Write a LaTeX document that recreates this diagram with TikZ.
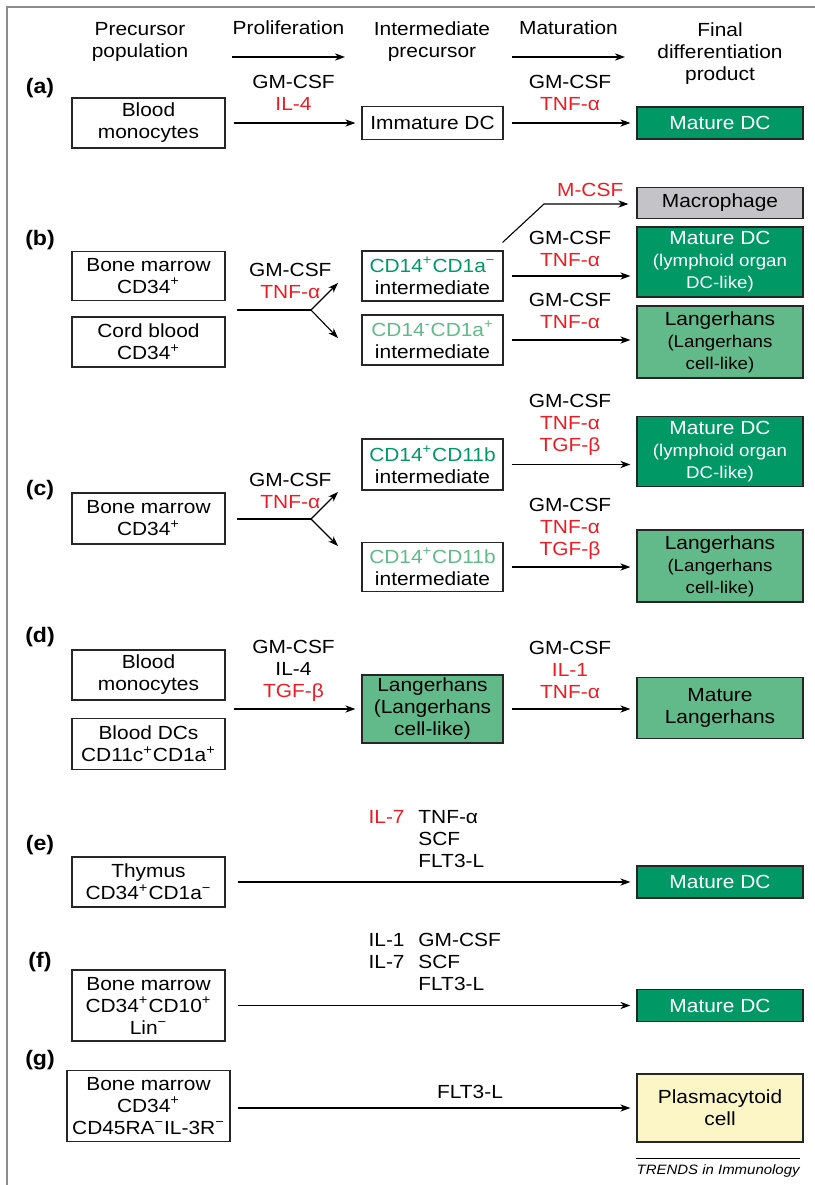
\documentclass[tikz,border=0pt]{standalone}
\usepackage{fontspec}
\setmainfont{Liberation Sans}[FakeStretch=1.1]
\usepackage{xcolor}
\usepackage{tikz}
\usetikzlibrary{arrows.meta, positioning, calc}
\definecolor{dcGreen}{RGB}{0,152,100}
\definecolor{lcGreen}{RGB}{98,186,138}
\definecolor{macGray}{RGB}{196,196,200}
\definecolor{plasYellow}{RGB}{252,245,198}
\definecolor{cytoRed}{RGB}{237,28,36}
\definecolor{frameGray}{RGB}{140,140,140}
\newcommand\figfont{\fontsize{9.5}{11}\selectfont}
\newcommand\subfont{\fontsize{8.5}{11}\selectfont}
\newcommand\cyt[1]{\textcolor{cytoRed}{#1}}

\begin{document}
\begin{tikzpicture}[x=0.5pt, y=-0.5pt,
    every node/.style={font=\figfont},
    cell/.style={rectangle, draw=black!85, line width=0.6pt, fill=white,
        align=center, inner sep=1pt},
    srcbox/.style={cell, minimum width=76.5pt},
    midbox/.style={cell, minimum width=70.5pt},
    endbox/.style={cell, minimum width=83pt, minimum height=16pt},
    dcfill/.style={fill=dcGreen, text=white},
    lcfill/.style={fill=lcGreen},
    mfill/.style={fill=macGray},
    pfill/.style={fill=plasYellow},
    arr/.style={-{Stealth[length=5pt, width=3.6pt, inset=1.5pt]}, line width=0.55pt},
    gap/.style={shorten <=4pt, shorten >=3pt},
    lbl/.style={align=center, inner sep=0pt},
    tag/.style={font=\fontsize{10.5}{12}\selectfont\bfseries},
    hdr/.style={align=center, inner sep=0pt}
]
\useasboundingbox (0,0) rectangle (815,1185);
\draw[frameGray, line width=0.9pt] (7,1185) -- (7,7) -- (815,7);

% header
\node[hdr] (hpre) at (140,42) {Precursor\\population};
\node[hdr] (hint) at (432,42) {Intermediate\\precursor};
\node[hdr] (hfin) at (720,54) {Final\\differentiation\\product};
\coordinate (proA) at (232,57);
\coordinate (proB) at (345,57);
\draw[arr] (proA) -- (proB) node[midway, above=11pt, lbl] {Proliferation};
\coordinate (matA) at (512,57);
\coordinate (matB) at (625,57);
\draw[arr] (matA) -- (matB) node[midway, above=11pt, lbl] {Maturation};

% (a)
\node[tag] (ta) at (40,88) {(a)};
\node[srcbox, minimum height=25pt] (monoa) at (148.5,123) {Blood\\monocytes};
\node[midbox, minimum height=16.5pt] (imma) at (432.5,123) {Immature DC};
\node[endbox, dcfill] (mdca) at (720,123) {Mature DC};
\draw[arr, gap] (monoa) -- (imma)
    node[midway, above=6pt, lbl] {GM-CSF\\\cyt{IL-4}};
\draw[arr, gap] (imma) -- (mdca)
    node[midway, above=6pt, lbl] {GM-CSF\\\cyt{TNF-α}};

% (b)
\node[tag] (tb) at (40,240) {(b)};
\node[srcbox, minimum height=24.5pt] (bmb) at (148.5,276) {Bone marrow\\CD34\textsuperscript{+}};
\node[srcbox, minimum height=25pt] (cbb) at (148.5,342) {Cord blood\\CD34\textsuperscript{+}};
\node[midbox, minimum height=25pt] (cdA) at (432.5,276)
    {\textcolor{dcGreen}{CD14\textsuperscript{+}CD1a\textsuperscript{−}}\\intermediate};
\node[midbox, minimum height=25pt] (cdB) at (432.5,340)
    {\textcolor{lcGreen}{CD14\textsuperscript{-}CD1a\textsuperscript{+}}\\intermediate};
\node[endbox, mfill, minimum height=15.5pt] (macb) at (720,203) {Macrophage};
\node[endbox, dcfill, minimum height=35pt] (mdcb) at (720,262)
    {Mature DC\\{\subfont (lymphoid organ}\\{\subfont DC-like)}};
\node[endbox, lcfill, minimum height=36pt] (lcb) at (720,342)
    {Langerhans\\{\subfont (Langerhans}\\{\subfont cell-like)}};
\coordinate (bIn) at (237,310);
\coordinate (bSplit) at (311,310);
\coordinate (bUp) at (338,283);
\coordinate (bDown) at (338,338);
\coordinate (bKnee) at (544,204);
\draw[line width=0.55pt] (bIn) -- (bSplit)
    node[pos=0.72, above=5.5pt, lbl] {GM-CSF\\\cyt{TNF-α}};
\draw[arr] (bSplit) -- (bUp);
\draw[arr] (bSplit) -- (bDown);
\draw[arr, shorten >=4pt] ([xshift=-0.5pt, yshift=4pt]cdA.north east) -- (bKnee)
    -- node[above=3.5pt, lbl] {\cyt{M-CSF}} (bKnee -| macb.west);
\draw[arr, gap] (cdA) -- (cdA -| mdcb.west)
    node[midway, above=4.5pt, lbl] {GM-CSF\\\cyt{TNF-α}};
\draw[arr, gap] (cdB) -- (cdB -| lcb.west)
    node[midway, above=5.5pt, lbl] {GM-CSF\\\cyt{TNF-α}};

% (c)
\node[tag] (tc) at (40,490) {(c)};
\node[srcbox, minimum height=25.5pt] (bmc) at (148.5,518.5) {Bone marrow\\CD34\textsuperscript{+}};
\node[midbox, minimum height=25.5pt] (cdC) at (432.5,464.5)
    {\textcolor{dcGreen}{CD14\textsuperscript{+}CD11b}\\intermediate};
\node[midbox, minimum height=24.5pt] (cdD) at (432.5,567)
    {\textcolor{lcGreen}{CD14\textsuperscript{+}CD11b}\\intermediate};
\node[endbox, dcfill, minimum height=35pt] (mdcc) at (720,451.5)
    {Mature DC\\{\subfont (lymphoid organ}\\{\subfont DC-like)}};
\node[endbox, lcfill, minimum height=36pt] (lcc) at (720,566)
    {Langerhans\\{\subfont (Langerhans}\\{\subfont cell-like)}};
\coordinate (cIn) at (237,519);
\coordinate (cSplit) at (311,519);
\coordinate (cUp) at (338,492);
\coordinate (cDown) at (338,546);
\draw[line width=0.55pt] (cIn) -- (cSplit)
    node[pos=0.72, above=5pt, lbl] {GM-CSF\\\cyt{TNF-α}};
\draw[arr] (cSplit) -- (cUp);
\draw[arr] (cSplit) -- (cDown);
\draw[arr, gap] (cdC) -- (cdC -| mdcc.west)
    node[midway, above=4.25pt, lbl] {GM-CSF\\\cyt{TNF-α}\\\cyt{TGF-β}};
\draw[arr, gap] (cdD) -- (cdD -| lcc.west)
    node[midway, above=3.5pt, lbl] {GM-CSF\\\cyt{TNF-α}\\\cyt{TGF-β}};

% (d)
\node[tag] (td) at (40,637) {(d)};
\node[srcbox, minimum height=25pt] (monod) at (148.5,675) {Blood\\monocytes};
\node[srcbox, minimum height=25.5pt] (dcsd) at (148.5,744) {Blood DCs\\CD11c\textsuperscript{+}CD1a\textsuperscript{+}};
\node[midbox, lcfill, minimum height=34pt] (lcd) at (432.5,709) {Langerhans\\(Langerhans\\cell-like)};
\node[endbox, lcfill, minimum height=30.5pt] (mlcd) at (720,708) {Mature\\Langerhans};
\draw[arr, gap] (monod.east |- lcd) -- (lcd)
    node[midway, above=3.5pt, lbl] {GM-CSF\\IL-4\\\cyt{TGF-β}};
\draw[arr, gap] (lcd) -- (lcd -| mlcd.west)
    node[midway, above=5pt, lbl] {GM-CSF\\\cyt{IL-1}\\\cyt{TNF-α}};

% (e)
\node[tag] (te) at (40,845) {(e)};
\node[srcbox, minimum height=25pt] (thye) at (148.5,882) {Thymus\\CD34\textsuperscript{+}CD1a\textsuperscript{−}};
\node[endbox, dcfill] (mdce) at (720,882) {Mature DC};
\draw[arr, gap, shorten <=6pt] (thye) -- (mdce);
\node[lbl, anchor=north east] (il7e) at (405,810) {\cyt{IL-7}};
\node[lbl, anchor=north west, align=left] (cyte) at (418,810) {TNF-α\\SCF\\FLT3-L};

% (f)
\node[tag] (tf) at (40,962) {(f)};
\node[srcbox, minimum height=35.5pt] (bmf) at (148.5,1005.5)
    {Bone marrow\\CD34\textsuperscript{+}CD10\textsuperscript{+}\\Lin\textsuperscript{−}};
\node[endbox, dcfill] (mdcf) at (720,1005.5) {Mature DC};
\draw[arr, gap, shorten <=6pt] (bmf) -- (mdcf);
\node[lbl, anchor=north east, align=right] (ilf) at (405,933) {IL-1\\IL-7};
\node[lbl, anchor=north west, align=left] (cytf) at (418,933) {GM-CSF\\SCF\\FLT3-L};

% (g)
\node[tag] (tg) at (40,1060) {(g)};
\node[cell, minimum width=81.5pt, minimum height=35.5pt] (bmg) at (148.5,1106)
    {Bone marrow\\CD34\textsuperscript{+}\\CD45RA\textsuperscript{−}IL-3R\textsuperscript{−}};
\node[endbox, pfill, minimum height=34pt] (plasg) at (720,1108) {Plasmacytoid\\cell};
\draw[arr, gap, shorten <=3.5pt] (bmg.east |- plasg) -- (plasg)
    node[pos=0.59, above=4.5pt, lbl] {FLT3-L};

% source line
\node[lbl, font=\fontsize{6.8}{8}\selectfont\itshape, anchor=north east] (credit) at (800,1164)
    {TRENDS in Immunology};
\draw[line width=0.5pt] ([yshift=3pt]credit.north west) -- ([yshift=3pt]credit.north east);
\end{tikzpicture}
\end{document}
